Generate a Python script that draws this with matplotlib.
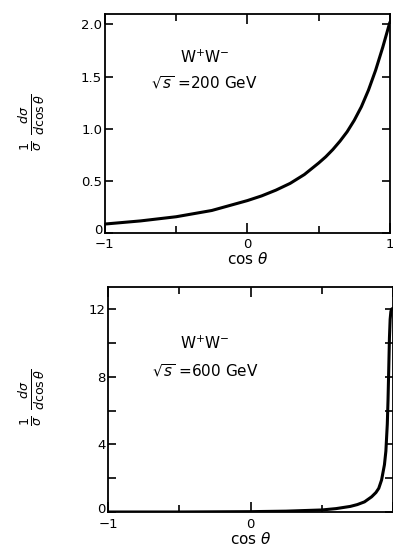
import matplotlib
matplotlib.use("Agg")
import matplotlib.pyplot as plt
import matplotlib.transforms as mtrans
import numpy as np

# angular distributions for e+e- -> W+W-
cos_200 = [-1.0, -0.75, -0.5, -0.25, 0.0, 0.1, 0.2, 0.3, 0.4, 0.5, 0.55, 0.6, 0.65, 0.7,
           0.75, 0.8, 0.85, 0.9, 0.95, 1.0]
dsig_200 = [0.085, 0.115, 0.155, 0.215, 0.31, 0.355, 0.41, 0.475, 0.56, 0.67, 0.73, 0.8,
            0.88, 0.97, 1.08, 1.21, 1.37, 1.56, 1.78, 2.02]

cos_600 = [-1.0, -0.5, 0.0, 0.25, 0.5, 0.6, 0.7, 0.75, 0.8, 0.85, 0.88, 0.9, 0.92, 0.94, 0.95,
           0.96, 0.965, 0.97, 0.975, 0.98, 0.985, 0.99, 1.0]
dsig_600 = [0.0, 0.0, 0.02, 0.05, 0.12, 0.2, 0.33, 0.44, 0.6, 0.9, 1.15, 1.4, 1.9, 2.8, 3.6,
            5.2, 6.6, 8.4, 10.3, 11.4, 11.85, 12.0, 12.05]

panels = [
    dict(x=cos_200, y=dsig_200, ylim=2.1, major=[0, 0.5, 1.0, 1.5, 2.0],
         labels=["0", "0.5", "1.0", "1.5", "2.0"], minor=[], energy="200",
         xlabels=["\u22121", "0", "1"],
         rect=[0.267, 0.575, 0.725, 0.3995], txt=(-0.30, 1.68, 1.44), ylab_y=0.776),
    dict(x=cos_600, y=dsig_600, ylim=13.3, major=[0, 4, 8, 12],
         labels=["0", "4", "8", "12"], minor=[2, 6, 10], energy="600",
         xlabels=["\u22121", "0", ""],
         rect=[0.275, 0.0657, 0.725, 0.4103], txt=(-0.32, 10.0, 8.35), ylab_y=0.275),
]

fig = plt.figure(figsize=(3.93, 5.48), dpi=100)
plt.rcParams['font.family'] = ['DejaVu Sans']
plt.rcParams['mathtext.fontset'] = 'dejavusans'

for p in panels:
    ax = fig.add_axes(p["rect"])
    ax.plot(p["x"], p["y"], color="black", lw=2.2, solid_capstyle="round",
            solid_joinstyle="round")
    ax.set_xlim(-1, 1)
    ax.set_ylim(0, p["ylim"])
    for s in ax.spines.values():
        s.set_linewidth(1.3)

    ax.set_xticks([-1, 0, 1])
    ax.set_xticklabels(p["xlabels"], fontsize=9.5)
    ax.set_xticks([-0.5, 0.5], minor=True)
    ax.set_yticks(p["major"])
    ax.set_yticklabels(p["labels"], fontsize=9.5)
    ax.set_yticks(p["minor"], minor=True)
    ax.tick_params(which="both", direction="in", top=True, right=True,
                   width=1.2, pad=2, length=6)
    ax.tick_params(axis="x", which="major", pad=4, length=7)
    ax.tick_params(axis="x", which="minor", length=5)

    # lift the corner "0" a little so it clears the "-1" below it
    zero = ax.get_yticklabels()[0]
    zero.set_transform(zero.get_transform() +
                       mtrans.ScaledTranslation(0, 3 / 72, fig.dpi_scale_trans))

    ax.set_xlabel(r"cos $\theta$", fontsize=11, labelpad=0)

    tx, ty1, ty2 = p["txt"]
    ax.text(tx, ty1, r"W$^{+}$W$^{-}$", fontsize=11, ha="center", va="center")
    ax.text(tx, ty2, r"$\sqrt{s}$ =" + p["energy"] + " GeV", fontsize=11,
            ha="center", va="center")

    fig.text(0.083, p["ylab_y"],
             r"$\frac{1}{\sigma}\ \frac{d\sigma}{d\cos\theta}$",
             rotation=90, fontsize=13, ha="center", va="center")

fig.savefig("out.png", dpi=100)
